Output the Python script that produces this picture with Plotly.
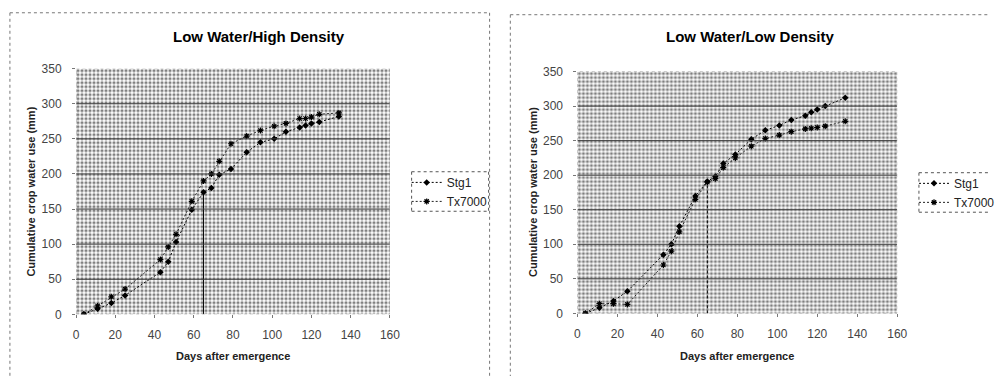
import plotly.graph_objects as go

# ---------------- data ----------------
days = [4, 11, 18, 25, 43, 47, 51, 59, 65, 69, 73, 79, 87, 94, 101, 107, 114, 117, 120, 124, 134]

hd_stg1 = [0, 8, 16, 27, 60, 75, 103, 149, 174, 180, 199, 207, 231, 245, 250, 260, 266, 269, 272, 274, 282]
hd_tx7000 = [0, 12, 25, 36, 78, 96, 114, 161, 190, 200, 218, 243, 254, 262, 268, 272, 279, 279, 281, 285, 287]

ld_stg1 = [0, 8, 18, 32, 85, 100, 126, 170, 191, 198, 217, 230, 252, 265, 272, 280, 286, 291, 295, 300, 312]
ld_tx7000 = [0, 14, 14, 13, 70, 90, 118, 165, 190, 195, 211, 225, 242, 253, 258, 263, 267, 268, 269, 271, 278]

titles = ["Low Water/High Density", "Low Water/Low Density"]
series_names = ["Stg1", "Tx7000"]
x_ticks = [0, 20, 40, 60, 80, 100, 120, 140, 160]
y_ticks = [0, 50, 100, 150, 200, 250, 300, 350]
marker_day = 65
marker_top = [175, 192]
x_title = "Days after emergence"
y_title = "Cumulative crop water use (mm)"

# ---------------- figure ----------------
W, H = 1000, 383
FONT = "Liberation Sans, Arial, sans-serif"
fig = go.Figure()

# border segments (pixel coords, all kept inside the page): (x0, y0, x1, y1)
panels = [
    dict(xd=[74 / W, 392 / W], yd=[1 - 319 / H, 1 - 64 / H], data=(hd_stg1, hd_tx7000),
         vdash="solid", legend="legend",
         border=[(7, 6, 7, 383), (7, 6, 493, 6), (493, 6, 493, 383)],
         lborder=[(414, 171, 492, 171), (414, 212, 492, 212), (414, 171, 414, 212), (492, 171, 492, 212)],
         title_x=259, xt_x=233, yt_x=28),
    dict(xd=[582 / W, 906 / W], yd=[1 - 318 / H, 1 - 67 / H], data=(ld_stg1, ld_tx7000),
         vdash="dash", legend="legend2",
         border=[(514, 8, 514, 383), (514, 8, 1000, 8)],
         lborder=[(928, 172, 1000, 172), (928, 213, 1000, 213), (928, 172, 928, 213)],
         title_x=757, xt_x=744, yt_x=537),
]

xr = [x_ticks[0], x_ticks[-1]]
yr = [y_ticks[0], y_ticks[-1]]


def seg(s, color):
    return dict(type="line", xref="paper", yref="paper",
                x0=s[0] / W, x1=s[2] / W, y0=1 - s[1] / H, y1=1 - s[3] / H,
                line=dict(color=color, width=1, dash="dot"))


shapes = []
annotations = []
for i, p in enumerate(panels):
    xa = "x" if i == 0 else "x2"
    ya = "y" if i == 0 else "y2"
    # patterned plot area background
    fig.add_trace(go.Scatter(
        x=[xr[0], xr[1], xr[1], xr[0], xr[0]], y=[yr[0], yr[0], yr[1], yr[1], yr[0]],
        fill="toself", mode="lines", line=dict(width=0),
        fillcolor="white",
        fillpattern=dict(shape=".", fgcolor="#000000", bgcolor="#ffffff", size=4, solidity=0.5),
        hoverinfo="skip", showlegend=False, xaxis=xa, yaxis=ya))
    # gridlines above the pattern
    for yt in y_ticks[1:-1]:
        shapes.append(dict(type="line", xref=xa, yref=ya, x0=xr[0], x1=xr[1], y0=yt, y1=yt,
                           line=dict(color="#3a3a3a", width=1), layer="above"))
    # plot area border (dotted)
    shapes.append(dict(type="rect", xref=xa, yref=ya, x0=xr[0], x1=xr[1], y0=yr[0], y1=yr[1],
                       line=dict(color="#999999", width=1, dash="dot"), layer="above"))
    # vertical marker line
    fig.add_trace(go.Scatter(x=[marker_day, marker_day], y=[0, marker_top[i]], mode="lines",
                             line=dict(color="black", width=1,
                                       dash="solid" if p["vdash"] == "solid" else "3px,2px"),
                             hoverinfo="skip", showlegend=False, xaxis=xa, yaxis=ya))
    s1, s2 = p["data"]
    fig.add_trace(go.Scatter(x=days, y=s1, name=series_names[0], mode="lines+markers",
                             line=dict(color="black", width=1, dash="2px,2px"),
                             marker=dict(symbol="diamond", size=5, color="black"),
                             legend=p["legend"], xaxis=xa, yaxis=ya))
    fig.add_trace(go.Scatter(x=days, y=s2, name=series_names[1], mode="lines+markers",
                             line=dict(color="#222222", width=1, dash="2px,2px"),
                             marker=dict(symbol="asterisk-open", size=5, color="black",
                                         line=dict(width=1.2, color="black")),
                             legend=p["legend"], xaxis=xa, yaxis=ya))
    ax = dict(domain=p["xd"], range=xr, tickvals=x_ticks, showgrid=False, zeroline=False,
              showline=False, ticks="outside", ticklen=3, tickcolor="#777777",
              ticklabelstandoff=6,
              tickfont=dict(family=FONT, size=12, color="#444444"), anchor=ya)
    ay = dict(domain=p["yd"], range=yr, tickvals=y_ticks, showgrid=False, zeroline=False,
              showline=False, ticks="outside", ticklen=3, tickcolor="#777777",
              ticklabelstandoff=8,
              tickfont=dict(family=FONT, size=12, color="#444444"), anchor=xa)
    if i == 0:
        fig.update_layout(xaxis=ax, yaxis=ay)
    else:
        fig.update_layout(xaxis2=ax, yaxis2=ay)
    for s in p["border"]:
        shapes.append(seg(s, "#777777"))
    for s in p["lborder"]:
        shapes.append(seg(s, "#555555"))
    # titles
    annotations.append(dict(text=f"<b>{titles[i]}</b>", xref="paper", yref="paper",
                            x=p["title_x"] / W, y=1 - 31 / H, showarrow=False,
                            xanchor="center", yanchor="middle",
                            font=dict(family=FONT, size=15, color="black")))
    annotations.append(dict(text=f"<b>{x_title}</b>", xref="paper", yref="paper",
                            x=p["xt_x"] / W, y=1 - 362 / H, showarrow=False,
                            xanchor="center", yanchor="middle",
                            font=dict(family=FONT, size=11, color="#222222")))
    annotations.append(dict(text=f"<b>{y_title}</b>", xref="paper", yref="paper",
                            x=p["yt_x"] / W, y=1 - 192 / H, showarrow=False, textangle=-90,
                            xanchor="center", yanchor="middle",
                            font=dict(family=FONT, size=11, color="#222222")))

fig.update_layout(
    width=W, height=H, margin=dict(l=0, r=0, t=0, b=0),
    paper_bgcolor="white", plot_bgcolor="white",
    shapes=shapes, annotations=annotations,
    legend=dict(x=409 / W, y=1 - 167 / H, xanchor="left", yanchor="top",
                bgcolor="rgba(0,0,0,0)", borderwidth=0, tracegroupgap=0, itemwidth=30,
                font=dict(family=FONT, size=12, color="#222222")),
    legend2=dict(x=923 / W, y=1 - 168 / H, xanchor="left", yanchor="top",
                 bgcolor="rgba(0,0,0,0)", borderwidth=0, tracegroupgap=0, itemwidth=30,
                 font=dict(family=FONT, size=12, color="#222222")),
)

fig.write_html("out.html", config={"displayModeBar": False},
               post_script="document.body.style.margin='0';document.body.style.overflow='hidden';")
